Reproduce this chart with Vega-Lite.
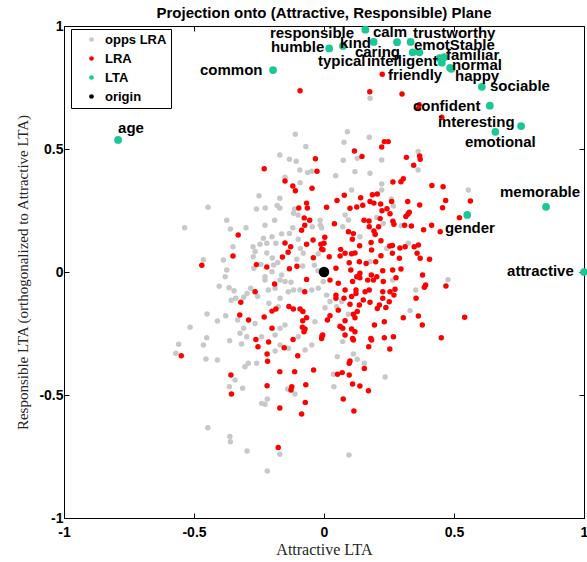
{
"$schema": "https://vega.github.io/schema/vega-lite/v6.json",
"width": 520, "height": 492,
"autosize": {"type": "none"},
"padding": {"left": 64, "top": 26, "right": 3, "bottom": 44},
"background": "white",
"title": {"text": "Projection onto (Attractive, Responsible) Plane", "fontSize": 15, "fontWeight": "bold", "font": "Liberation Sans", "color": "black", "offset": -2, "anchor": "middle"},
"config": {"view": {"stroke": "black", "strokeWidth": 1}, "font": "Liberation Sans"},
"datasets": {
"pts": [
{"x":-0.11,"y":0.56,"g":"opps LRA"},{"x":-0.07,"y":0.51,"g":"opps LRA"},{"x":-0.17,"y":0.476,"g":"opps LRA"},{"x":-0.133,"y":0.458,"g":"opps LRA"},{"x":-0.107,"y":0.45,"g":"opps LRA"},{"x":-0.093,"y":0.415,"g":"opps LRA"},{"x":-0.063,"y":0.404,"g":"opps LRA"},{"x":-0.047,"y":0.41,"g":"opps LRA"},{"x":-0.15,"y":0.385,"g":"opps LRA"},{"x":-0.092,"y":0.363,"g":"opps LRA"},{"x":-0.25,"y":0.31,"g":"opps LRA"},{"x":-0.17,"y":0.3,"g":"opps LRA"},{"x":-0.226,"y":0.26,"g":"opps LRA"},{"x":-0.26,"y":0.256,"g":"opps LRA"},{"x":-0.18,"y":0.27,"g":"opps LRA"},{"x":-0.17,"y":0.26,"g":"opps LRA"},{"x":-0.446,"y":0.263,"g":"opps LRA"},{"x":-0.113,"y":0.256,"g":"opps LRA"},{"x":-0.1,"y":0.232,"g":"opps LRA"},{"x":-0.117,"y":0.239,"g":"opps LRA"},{"x":-0.374,"y":0.21,"g":"opps LRA"},{"x":-0.3,"y":0.18,"g":"opps LRA"},{"x":-0.227,"y":0.19,"g":"opps LRA"},{"x":-0.19,"y":0.21,"g":"opps LRA"},{"x":-0.36,"y":0.175,"g":"opps LRA"},{"x":-0.536,"y":0.18,"g":"opps LRA"},{"x":-0.12,"y":0.18,"g":"opps LRA"},{"x":-0.045,"y":0.184,"g":"opps LRA"},{"x":-0.014,"y":0.19,"g":"opps LRA"},{"x":-0.133,"y":0.157,"g":"opps LRA"},{"x":-0.233,"y":0.137,"g":"opps LRA"},{"x":-0.2,"y":0.143,"g":"opps LRA"},{"x":-0.163,"y":0.155,"g":"opps LRA"},{"x":-0.22,"y":0.117,"g":"opps LRA"},{"x":-0.185,"y":0.117,"g":"opps LRA"},{"x":-0.273,"y":0.103,"g":"opps LRA"},{"x":-0.246,"y":0.113,"g":"opps LRA"},{"x":-0.35,"y":0.103,"g":"opps LRA"},{"x":-0.387,"y":0.049,"g":"opps LRA"},{"x":-0.464,"y":0.05,"g":"opps LRA"},{"x":-0.265,"y":0.083,"g":"opps LRA"},{"x":-0.272,"y":0.062,"g":"opps LRA"},{"x":-0.22,"y":0.077,"g":"opps LRA"},{"x":-0.199,"y":0.057,"g":"opps LRA"},{"x":-0.243,"y":0.031,"g":"opps LRA"},{"x":-0.194,"y":0.028,"g":"opps LRA"},{"x":-0.178,"y":0.039,"g":"opps LRA"},{"x":-0.099,"y":0.133,"g":"opps LRA"},{"x":-0.091,"y":0.096,"g":"opps LRA"},{"x":-0.08,"y":0.076,"g":"opps LRA"},{"x":-0.105,"y":0.052,"g":"opps LRA"},{"x":-0.082,"y":0.024,"g":"opps LRA"},{"x":-0.022,"y":0.074,"g":"opps LRA"},{"x":-0.037,"y":0.027,"g":"opps LRA"},{"x":-0.023,"y":0.005,"g":"opps LRA"},{"x":-0.374,"y":0.008,"g":"opps LRA"},{"x":-0.38,"y":-0.019,"g":"opps LRA"},{"x":-0.2,"y":0.001,"g":"opps LRA"},{"x":-0.163,"y":-0.012,"g":"opps LRA"},{"x":-0.227,"y":-0.019,"g":"opps LRA"},{"x":-0.27,"y":0.015,"g":"opps LRA"},
{"x":-0.403,"y":-0.058,"g":"opps LRA"},{"x":-0.365,"y":-0.064,"g":"opps LRA"},{"x":-0.346,"y":-0.076,"g":"opps LRA"},{"x":-0.34,"y":-0.107,"g":"opps LRA"},{"x":-0.357,"y":-0.115,"g":"opps LRA"},{"x":-0.296,"y":-0.087,"g":"opps LRA"},{"x":-0.282,"y":-0.066,"g":"opps LRA"},{"x":-0.255,"y":-0.1,"g":"opps LRA"},{"x":-0.309,"y":-0.103,"g":"opps LRA"},{"x":-0.227,"y":-0.033,"g":"opps LRA"},{"x":-0.214,"y":-0.073,"g":"opps LRA"},{"x":-0.188,"y":-0.066,"g":"opps LRA"},{"x":-0.169,"y":-0.033,"g":"opps LRA"},{"x":-0.15,"y":-0.039,"g":"opps LRA"},{"x":-0.127,"y":-0.042,"g":"opps LRA"},{"x":-0.137,"y":-0.08,"g":"opps LRA"},{"x":-0.117,"y":-0.073,"g":"opps LRA"},{"x":-0.092,"y":-0.073,"g":"opps LRA"},{"x":-0.047,"y":-0.073,"g":"opps LRA"},{"x":-0.022,"y":-0.066,"g":"opps LRA"},{"x":-0.169,"y":-0.107,"g":"opps LRA"},{"x":-0.212,"y":-0.127,"g":"opps LRA"},{"x":-0.176,"y":-0.141,"g":"opps LRA"},{"x":-0.45,"y":-0.171,"g":"opps LRA"},{"x":-0.41,"y":-0.199,"g":"opps LRA"},{"x":-0.378,"y":-0.178,"g":"opps LRA"},{"x":-0.515,"y":-0.225,"g":"opps LRA"},{"x":-0.451,"y":-0.267,"g":"opps LRA"},{"x":-0.464,"y":-0.297,"g":"opps LRA"},{"x":-0.559,"y":-0.294,"g":"opps LRA"},{"x":-0.57,"y":-0.33,"g":"opps LRA"},{"x":-0.363,"y":-0.279,"g":"opps LRA"},{"x":-0.317,"y":-0.293,"g":"opps LRA"},{"x":-0.454,"y":-0.354,"g":"opps LRA"},{"x":-0.41,"y":-0.358,"g":"opps LRA"},{"x":-0.332,"y":-0.195,"g":"opps LRA"},{"x":-0.309,"y":-0.229,"g":"opps LRA"},{"x":-0.323,"y":-0.249,"g":"opps LRA"},{"x":-0.265,"y":-0.209,"g":"opps LRA"},{"x":-0.24,"y":-0.263,"g":"opps LRA"},{"x":-0.297,"y":-0.263,"g":"opps LRA"},{"x":-0.169,"y":-0.229,"g":"opps LRA"},{"x":-0.15,"y":-0.215,"g":"opps LRA"},{"x":-0.188,"y":-0.256,"g":"opps LRA"},{"x":-0.169,"y":-0.297,"g":"opps LRA"},{"x":-0.188,"y":-0.321,"g":"opps LRA"},{"x":-0.137,"y":-0.31,"g":"opps LRA"},{"x":-0.099,"y":-0.263,"g":"opps LRA"},{"x":-0.073,"y":-0.317,"g":"opps LRA"},{"x":-0.047,"y":-0.297,"g":"opps LRA"},{"x":-0.035,"y":-0.202,"g":"opps LRA"},{"x":-0.291,"y":-0.371,"g":"opps LRA"},{"x":-0.304,"y":-0.385,"g":"opps LRA"},{"x":-0.259,"y":-0.371,"g":"opps LRA"},{"x":-0.342,"y":-0.439,"g":"opps LRA"},{"x":-0.364,"y":-0.466,"g":"opps LRA"},{"x":-0.313,"y":-0.473,"g":"opps LRA"},{"x":-0.14,"y":-0.476,"g":"opps LRA"},{"x":-0.112,"y":-0.496,"g":"opps LRA"},{"x":-0.24,"y":-0.534,"g":"opps LRA"},{"x":-0.227,"y":-0.538,"g":"opps LRA"},{"x":-0.218,"y":-0.516,"g":"opps LRA"},{"x":-0.447,"y":-0.633,"g":"opps LRA"},{"x":-0.362,"y":-0.669,"g":"opps LRA"},{"x":-0.36,"y":-0.69,"g":"opps LRA"},{"x":-0.296,"y":-0.728,"g":"opps LRA"},{"x":-0.17,"y":-0.741,"g":"opps LRA"},{"x":-0.218,"y":-0.809,"g":"opps LRA"},
{"x":0.177,"y":0.706,"g":"opps LRA"},{"x":0.09,"y":0.57,"g":"opps LRA"},{"x":0.077,"y":0.527,"g":"opps LRA"},{"x":0.174,"y":0.548,"g":"opps LRA"},{"x":0.128,"y":0.462,"g":"opps LRA"},{"x":0.074,"y":0.454,"g":"opps LRA"},{"x":0.222,"y":0.455,"g":"opps LRA"},{"x":0.177,"y":0.401,"g":"opps LRA"},{"x":0.119,"y":0.408,"g":"opps LRA"},{"x":0.045,"y":0.391,"g":"opps LRA"},{"x":0.106,"y":0.333,"g":"opps LRA"},{"x":0.222,"y":0.358,"g":"opps LRA"},{"x":0.222,"y":0.333,"g":"opps LRA"},{"x":0.259,"y":0.297,"g":"opps LRA"},{"x":0.267,"y":0.268,"g":"opps LRA"},{"x":0.203,"y":0.222,"g":"opps LRA"},{"x":0.297,"y":0.188,"g":"opps LRA"},{"x":0.362,"y":0.49,"g":"opps LRA"},{"x":0.362,"y":0.415,"g":"opps LRA"},{"x":0.555,"y":0.333,"g":"opps LRA"},{"x":0.081,"y":0.232,"g":"opps LRA"},{"x":0.094,"y":0.211,"g":"opps LRA"},{"x":0.072,"y":0.184,"g":"opps LRA"},{"x":0.138,"y":0.143,"g":"opps LRA"},{"x":0.196,"y":0.15,"g":"opps LRA"},{"x":0.228,"y":0.197,"g":"opps LRA"},{"x":0.324,"y":0.117,"g":"opps LRA"},{"x":0.177,"y":0.042,"g":"opps LRA"},{"x":0.241,"y":0.096,"g":"opps LRA"},{"x":-0.015,"y":0.21,"g":"opps LRA"},{"x":-0.009,"y":0.18,"g":"opps LRA"},
{"x":-0.003,"y":-0.039,"g":"opps LRA"},{"x":0.01,"y":-0.094,"g":"opps LRA"},{"x":0.004,"y":-0.145,"g":"opps LRA"},{"x":0.023,"y":-0.12,"g":"opps LRA"},{"x":0.068,"y":-0.12,"g":"opps LRA"},{"x":0.049,"y":-0.141,"g":"opps LRA"},{"x":0.094,"y":-0.172,"g":"opps LRA"},{"x":0.059,"y":-0.218,"g":"opps LRA"},{"x":0.072,"y":-0.283,"g":"opps LRA"},{"x":0.051,"y":-0.344,"g":"opps LRA"},{"x":0.113,"y":-0.333,"g":"opps LRA"},{"x":0.128,"y":-0.355,"g":"opps LRA"},{"x":0.155,"y":-0.371,"g":"opps LRA"},{"x":0.036,"y":-0.416,"g":"opps LRA"},{"x":0.038,"y":-0.466,"g":"opps LRA"},{"x":0.235,"y":-0.427,"g":"opps LRA"},{"x":0.096,"y":-0.744,"g":"opps LRA"},{"x":0.331,"y":-0.157,"g":"opps LRA"},{"x":0.353,"y":-0.073,"g":"opps LRA"},{"x":0.477,"y":-0.031,"g":"opps LRA"},{"x":0.264,"y":-0.033,"g":"opps LRA"},
{"x":-0.092,"y":0.737,"g":"LRA"},{"x":-0.23,"y":0.42,"g":"LRA"},{"x":-0.033,"y":0.46,"g":"LRA"},{"x":-0.027,"y":0.41,"g":"LRA"},{"x":-0.15,"y":0.37,"g":"LRA"},{"x":-0.12,"y":0.35,"g":"LRA"},{"x":-0.11,"y":0.33,"g":"LRA"},{"x":-0.046,"y":0.34,"g":"LRA"},{"x":-0.067,"y":0.28,"g":"LRA"},{"x":-0.064,"y":0.26,"g":"LRA"},{"x":-0.097,"y":0.26,"g":"LRA"},{"x":-0.076,"y":0.22,"g":"LRA"},{"x":-0.055,"y":0.21,"g":"LRA"},{"x":-0.074,"y":0.19,"g":"LRA"},{"x":-0.086,"y":0.17,"g":"LRA"},{"x":-0.33,"y":0.15,"g":"LRA"},{"x":-0.35,"y":0.065,"g":"LRA"},{"x":-0.47,"y":0.027,"g":"LRA"},{"x":-0.26,"y":0.03,"g":"LRA"},{"x":-0.22,"y":0.02,"g":"LRA"},{"x":-0.15,"y":0.118,"g":"LRA"},{"x":-0.128,"y":0.103,"g":"LRA"},{"x":-0.138,"y":0.08,"g":"LRA"},{"x":-0.16,"y":0.061,"g":"LRA"},{"x":-0.067,"y":0.113,"g":"LRA"},{"x":-0.042,"y":0.13,"g":"LRA"},{"x":-0.012,"y":0.113,"g":"LRA"},{"x":-0.004,"y":0.09,"g":"LRA"},{"x":-0.041,"y":0.058,"g":"LRA"},{"x":-0.104,"y":0.023,"g":"LRA"},{"x":-0.133,"y":0.013,"g":"LRA"},{"x":-0.067,"y":-0.03,"g":"LRA"},
{"x":-0.19,"y":-0.049,"g":"LRA"},{"x":-0.265,"y":-0.08,"g":"LRA"},{"x":-0.074,"y":-0.08,"g":"LRA"},{"x":-0.32,"y":-0.123,"g":"LRA"},{"x":-0.324,"y":-0.175,"g":"LRA"},{"x":-0.29,"y":-0.195,"g":"LRA"},{"x":-0.23,"y":-0.183,"g":"LRA"},{"x":-0.2,"y":-0.159,"g":"LRA"},{"x":-0.185,"y":-0.15,"g":"LRA"},{"x":-0.135,"y":-0.14,"g":"LRA"},{"x":-0.118,"y":-0.15,"g":"LRA"},{"x":-0.092,"y":-0.15,"g":"LRA"},{"x":-0.081,"y":-0.161,"g":"LRA"},{"x":-0.067,"y":-0.186,"g":"LRA"},{"x":-0.082,"y":-0.198,"g":"LRA"},{"x":-0.2,"y":-0.229,"g":"LRA"},{"x":-0.083,"y":-0.225,"g":"LRA"},{"x":-0.073,"y":-0.232,"g":"LRA"},{"x":-0.077,"y":-0.243,"g":"LRA"},{"x":-0.262,"y":-0.274,"g":"LRA"},{"x":-0.254,"y":-0.304,"g":"LRA"},{"x":-0.213,"y":-0.285,"g":"LRA"},{"x":-0.219,"y":-0.333,"g":"LRA"},{"x":-0.217,"y":-0.363,"g":"LRA"},{"x":-0.153,"y":-0.308,"g":"LRA"},{"x":-0.119,"y":-0.274,"g":"LRA"},{"x":-0.101,"y":-0.34,"g":"LRA"},{"x":-0.008,"y":-0.26,"g":"LRA"},{"x":-0.549,"y":-0.34,"g":"LRA"},{"x":-0.358,"y":-0.419,"g":"LRA"},{"x":-0.356,"y":-0.496,"g":"LRA"},{"x":-0.17,"y":-0.405,"g":"LRA"},{"x":-0.113,"y":-0.405,"g":"LRA"},{"x":-0.04,"y":-0.398,"g":"LRA"},{"x":-0.219,"y":-0.462,"g":"LRA"},{"x":-0.124,"y":-0.466,"g":"LRA"},{"x":-0.127,"y":-0.48,"g":"LRA"},{"x":-0.07,"y":-0.458,"g":"LRA"},{"x":-0.072,"y":-0.53,"g":"LRA"},{"x":-0.17,"y":-0.553,"g":"LRA"},{"x":-0.086,"y":-0.577,"g":"LRA"},{"x":-0.176,"y":-0.713,"g":"LRA"},
{"x":0.176,"y":0.733,"g":"LRA"},{"x":0.3,"y":0.724,"g":"LRA"},{"x":0.224,"y":0.804,"g":"LRA"},{"x":0.364,"y":0.665,"g":"LRA"},{"x":0.366,"y":0.68,"g":"LRA"},{"x":0.453,"y":0.629,"g":"LRA"},{"x":0.232,"y":0.53,"g":"LRA"},{"x":0.247,"y":0.53,"g":"LRA"},{"x":0.222,"y":0.508,"g":"LRA"},{"x":0.117,"y":0.492,"g":"LRA"},{"x":0.146,"y":0.47,"g":"LRA"},{"x":0.317,"y":0.466,"g":"LRA"},{"x":0.368,"y":0.472,"g":"LRA"},{"x":0.37,"y":0.458,"g":"LRA"},{"x":0.345,"y":0.434,"g":"LRA"},{"x":0.265,"y":0.366,"g":"LRA"},{"x":0.296,"y":0.367,"g":"LRA"},{"x":0.305,"y":0.379,"g":"LRA"},{"x":0.415,"y":0.352,"g":"LRA"},{"x":0.458,"y":0.347,"g":"LRA"},{"x":0.468,"y":0.291,"g":"LRA"},{"x":0.456,"y":0.261,"g":"LRA"},{"x":0.563,"y":0.289,"g":"LRA"},{"x":0.521,"y":0.221,"g":"LRA"},{"x":0.447,"y":0.164,"g":"LRA"},{"x":0.414,"y":0.19,"g":"LRA"},
{"x":0.01,"y":0.263,"g":"LRA"},{"x":0.05,"y":0.291,"g":"LRA"},{"x":0.078,"y":0.312,"g":"LRA"},{"x":0.1,"y":0.259,"g":"LRA"},{"x":0.126,"y":0.264,"g":"LRA"},{"x":0.141,"y":0.302,"g":"LRA"},{"x":0.149,"y":0.271,"g":"LRA"},{"x":0.177,"y":0.287,"g":"LRA"},{"x":0.186,"y":0.314,"g":"LRA"},{"x":0.205,"y":0.317,"g":"LRA"},{"x":0.192,"y":0.28,"g":"LRA"},{"x":0.218,"y":0.276,"g":"LRA"},{"x":0.26,"y":0.287,"g":"LRA"},{"x":0.223,"y":0.249,"g":"LRA"},{"x":0.242,"y":0.257,"g":"LRA"},{"x":0.254,"y":0.237,"g":"LRA"},{"x":0.322,"y":0.287,"g":"LRA"},{"x":0.368,"y":0.272,"g":"LRA"},{"x":0.323,"y":0.236,"g":"LRA"},{"x":0.328,"y":0.243,"g":"LRA"},{"x":0.315,"y":0.226,"g":"LRA"},{"x":0.265,"y":0.206,"g":"LRA"},{"x":0.269,"y":0.194,"g":"LRA"},{"x":0.31,"y":0.19,"g":"LRA"},{"x":0.336,"y":0.187,"g":"LRA"},{"x":0.383,"y":0.172,"g":"LRA"},{"x":0.154,"y":0.21,"g":"LRA"},{"x":0.173,"y":0.207,"g":"LRA"},{"x":0.216,"y":0.217,"g":"LRA"},{"x":0.21,"y":0.184,"g":"LRA"},{"x":0.174,"y":0.184,"g":"LRA"},{"x":0.192,"y":0.167,"g":"LRA"},{"x":0.197,"y":0.153,"g":"LRA"},{"x":0.04,"y":0.196,"g":"LRA"},{"x":0.113,"y":0.156,"g":"LRA"},{"x":0.094,"y":0.164,"g":"LRA"},{"x":0.109,"y":0.133,"g":"LRA"},{"x":0.003,"y":0.141,"g":"LRA"},{"x":0.0,"y":0.117,"g":"LRA"},{"x":-0.009,"y":0.093,"g":"LRA"},{"x":0.064,"y":0.092,"g":"LRA"},{"x":0.081,"y":0.076,"g":"LRA"},{"x":0.062,"y":0.065,"g":"LRA"},{"x":0.106,"y":0.074,"g":"LRA"},{"x":0.119,"y":0.077,"g":"LRA"},{"x":0.137,"y":0.107,"g":"LRA"},{"x":0.181,"y":0.12,"g":"LRA"},{"x":0.183,"y":0.089,"g":"LRA"},{"x":0.219,"y":0.127,"g":"LRA"},{"x":0.219,"y":0.066,"g":"LRA"},{"x":0.253,"y":0.106,"g":"LRA"},{"x":0.263,"y":0.108,"g":"LRA"},{"x":0.292,"y":0.098,"g":"LRA"},{"x":0.263,"y":0.076,"g":"LRA"},{"x":0.29,"y":0.056,"g":"LRA"},{"x":0.312,"y":0.103,"g":"LRA"},{"x":0.347,"y":0.103,"g":"LRA"},{"x":0.363,"y":0.11,"g":"LRA"},{"x":0.358,"y":0.076,"g":"LRA"},{"x":0.37,"y":0.056,"g":"LRA"},{"x":0.406,"y":0.052,"g":"LRA"},{"x":0.02,"y":0.062,"g":"LRA"},{"x":0.046,"y":0.015,"g":"LRA"},{"x":0.097,"y":0.038,"g":"LRA"},{"x":0.136,"y":0.042,"g":"LRA"},{"x":0.162,"y":0.035,"g":"LRA"},{"x":0.199,"y":0.042,"g":"LRA"},{"x":0.226,"y":0.005,"g":"LRA"},{"x":0.103,"y":0.008,"g":"LRA"},{"x":0.138,"y":-0.005,"g":"LRA"},{"x":0.182,"y":-0.012,"g":"LRA"},{"x":0.264,"y":0.008,"g":"LRA"},{"x":0.296,"y":0.012,"g":"LRA"},{"x":0.379,"y":-0.012,"g":"LRA"},
{"x":0.023,"y":-0.033,"g":"LRA"},{"x":0.055,"y":-0.046,"g":"LRA"},{"x":0.081,"y":-0.073,"g":"LRA"},{"x":0.046,"y":-0.094,"g":"LRA"},{"x":0.046,"y":-0.107,"g":"LRA"},{"x":0.077,"y":-0.107,"g":"LRA"},{"x":0.106,"y":-0.1,"g":"LRA"},{"x":0.11,"y":-0.039,"g":"LRA"},{"x":0.126,"y":-0.019,"g":"LRA"},{"x":0.138,"y":-0.023,"g":"LRA"},{"x":0.168,"y":-0.033,"g":"LRA"},{"x":0.19,"y":-0.033,"g":"LRA"},{"x":0.203,"y":-0.019,"g":"LRA"},{"x":0.228,"y":-0.039,"g":"LRA"},{"x":0.277,"y":-0.023,"g":"LRA"},{"x":0.123,"y":-0.073,"g":"LRA"},{"x":0.123,"y":-0.087,"g":"LRA"},{"x":0.158,"y":-0.08,"g":"LRA"},{"x":0.174,"y":-0.073,"g":"LRA"},{"x":0.226,"y":-0.08,"g":"LRA"},{"x":0.254,"y":-0.08,"g":"LRA"},{"x":0.273,"y":-0.07,"g":"LRA"},{"x":0.269,"y":-0.094,"g":"LRA"},{"x":0.1,"y":-0.131,"g":"LRA"},{"x":0.136,"y":-0.134,"g":"LRA"},{"x":0.151,"y":-0.114,"g":"LRA"},{"x":0.177,"y":-0.123,"g":"LRA"},{"x":0.213,"y":-0.134,"g":"LRA"},{"x":0.238,"y":-0.144,"g":"LRA"},{"x":0.205,"y":-0.148,"g":"LRA"},{"x":0.251,"y":-0.121,"g":"LRA"},{"x":0.226,"y":-0.107,"g":"LRA"},{"x":0.128,"y":-0.161,"g":"LRA"},{"x":0.055,"y":-0.155,"g":"LRA"},{"x":0.023,"y":-0.178,"g":"LRA"},{"x":0.013,"y":-0.195,"g":"LRA"},{"x":0.081,"y":-0.198,"g":"LRA"},{"x":0.113,"y":-0.172,"g":"LRA"},{"x":0.119,"y":-0.186,"g":"LRA"},{"x":0.062,"y":-0.222,"g":"LRA"},{"x":0.072,"y":-0.229,"g":"LRA"},{"x":0.106,"y":-0.232,"g":"LRA"},{"x":0.119,"y":-0.243,"g":"LRA"},{"x":0.081,"y":-0.256,"g":"LRA"},{"x":0.11,"y":-0.27,"g":"LRA"},{"x":0.113,"y":-0.276,"g":"LRA"},{"x":-0.005,"y":-0.256,"g":"LRA"},{"x":-0.009,"y":-0.27,"g":"LRA"},{"x":0.194,"y":-0.215,"g":"LRA"},{"x":0.232,"y":-0.202,"g":"LRA"},{"x":0.232,"y":-0.267,"g":"LRA"},{"x":0.267,"y":-0.263,"g":"LRA"},{"x":0.18,"y":-0.27,"g":"LRA"},{"x":0.183,"y":-0.276,"g":"LRA"},{"x":0.172,"y":-0.304,"g":"LRA"},{"x":0.253,"y":-0.313,"g":"LRA"},{"x":0.305,"y":-0.186,"g":"LRA"},{"x":0.363,"y":-0.179,"g":"LRA"},{"x":0.378,"y":-0.215,"g":"LRA"},{"x":0.354,"y":-0.107,"g":"LRA"},{"x":0.391,"y":-0.053,"g":"LRA"},{"x":0.386,"y":-0.062,"g":"LRA"},{"x":0.469,"y":-0.057,"g":"LRA"},{"x":0.541,"y":-0.184,"g":"LRA"},{"x":0.451,"y":-0.267,"g":"LRA"},{"x":0.1,"y":-0.362,"g":"LRA"},{"x":0.097,"y":-0.371,"g":"LRA"},{"x":0.155,"y":-0.392,"g":"LRA"},{"x":0.052,"y":-0.416,"g":"LRA"},{"x":0.07,"y":-0.409,"g":"LRA"},{"x":0.097,"y":-0.419,"g":"LRA"},{"x":0.11,"y":-0.455,"g":"LRA"},{"x":0.138,"y":-0.463,"g":"LRA"},{"x":0.171,"y":-0.483,"g":"LRA"},{"x":0.074,"y":-0.516,"g":"LRA"},{"x":0.115,"y":-0.565,"g":"LRA"},
{"x":-0.792,"y":0.537,"g":"LTA","name":"age"},{"x":-0.196,"y":0.821,"g":"LTA","name":"common"},{"x":0.159,"y":0.985,"g":"LTA","name":"responsible"},{"x":0.02,"y":0.909,"g":"LTA","name":"humble"},{"x":0.073,"y":0.919,"g":"LTA","name":"kind"},{"x":0.191,"y":0.935,"g":"LTA","name":"calm"},{"x":0.281,"y":0.934,"g":"LTA","name":"trustworthy"},{"x":0.333,"y":0.935,"g":"LTA","name":"emotStable"},{"x":0.341,"y":0.893,"g":"LTA","name":"caring"},{"x":0.367,"y":0.893,"g":"LTA","name":"typical"},{"x":0.445,"y":0.869,"g":"LTA","name":"intelligent"},{"x":0.462,"y":0.873,"g":"LTA","name":"familiar"},{"x":0.453,"y":0.851,"g":"LTA","name":"friendly"},{"x":0.485,"y":0.83,"g":"LTA","name":"normal"},{"x":0.49,"y":0.826,"g":"LTA","name":"happy"},{"x":0.607,"y":0.753,"g":"LTA","name":"sociable"},{"x":0.638,"y":0.676,"g":"LTA","name":"confident"},{"x":0.758,"y":0.593,"g":"LTA","name":"interesting"},{"x":0.659,"y":0.57,"g":"LTA","name":"emotional"},{"x":0.854,"y":0.265,"g":"LTA","name":"memorable"},{"x":0.551,"y":0.232,"g":"LTA","name":"gender"},{"x":1.0,"y":0.0,"g":"LTA","name":"attractive"},
{"x":0,"y":0,"g":"origin"}
],
"labels": [
{"label":"responsible","x":-0.208,"y":0.972},{"label":"calm","x":0.188,"y":0.976},{"label":"trustworthy","x":0.342,"y":0.972},{"label":"humble","x":-0.204,"y":0.915},{"label":"kind","x":0.062,"y":0.931},{"label":"caring","x":0.119,"y":0.894},{"label":"emotStable","x":0.346,"y":0.923},{"label":"familiar","x":0.469,"y":0.882},{"label":"typical","x":-0.023,"y":0.858},{"label":"intelligent","x":0.165,"y":0.858},{"label":"normal","x":0.492,"y":0.841},{"label":"friendly","x":0.246,"y":0.801},{"label":"happy","x":0.504,"y":0.797},{"label":"common","x":-0.477,"y":0.821},{"label":"sociable","x":0.638,"y":0.756},{"label":"confident","x":0.342,"y":0.675},{"label":"interesting","x":0.438,"y":0.61},{"label":"emotional","x":0.542,"y":0.528},{"label":"memorable","x":0.677,"y":0.325},{"label":"gender","x":0.465,"y":0.179},{"label":"attractive","x":0.704,"y":0.004},{"label":"age","x":-0.792,"y":0.585}
]
},
"layer": [
{"data": {"name": "pts"},
 "transform": [{"filter": {"field": "g", "oneOf": ["opps LRA", "LRA"]}}],
 "mark": {"type": "circle", "opacity": 1, "size": 30, "clip": false},
 "encoding": {
  "x": {"field": "x", "type": "quantitative", "scale": {"domain": [-1, 1], "nice": false, "zero": false},
   "axis": {"orient": "bottom", "values": [-1, -0.5, 0, 0.5, 1], "tickSize": -5, "labelFlush": false, "labelExpr": "'' + datum.value", "labelFontSize": 14, "labelFontWeight": "bold", "labelFont": "Liberation Sans", "labelColor": "black", "labelPadding": 12, "domainColor": "black", "tickColor": "black", "grid": false, "title": "Attractive LTA", "titleFont": "Liberation Serif", "titleFontWeight": "normal", "titleFontSize": 16, "titleColor": "#262626", "titlePadding": 2}},
  "y": {"field": "y", "type": "quantitative", "scale": {"domain": [-1, 1], "nice": false, "zero": false},
   "axis": {"orient": "left", "values": [-1, -0.5, 0, 0.5, 1], "tickSize": -5, "labelFlush": false, "labelExpr": "'' + datum.value", "labelFontSize": 14, "labelFontWeight": "bold", "labelFont": "Liberation Sans", "labelColor": "black", "labelPadding": 6, "domainColor": "black", "tickColor": "black", "grid": false, "title": "Responsible LTA (orthogonalized to Attractive LTA)", "titleFont": "Liberation Serif", "titleFontWeight": "normal", "titleFontSize": 15, "titleColor": "#262626", "titlePadding": 8}},
  "color": {"field": "g", "type": "nominal", "scale": {"domain": ["opps LRA", "LRA", "LTA", "origin"], "range": ["#c8c8c8", "#ff0000", "#1ac896", "#000000"]},
   "legend": {"orient": "none", "legendX": 7, "legendY": 3, "title": null, "strokeColor": "black", "fillColor": "white", "padding": 4, "symbolType": "circle", "symbolSize": 22, "symbolStrokeWidth": 0, "symbolOffset": 10, "labelOffset": 7, "labelFontSize": 13, "labelFontWeight": "bold", "labelFont": "Liberation Sans", "labelColor": "black", "rowPadding": 5}}
 }},
{"data": {"name": "pts"},
 "transform": [{"filter": {"field": "g", "equal": "LTA"}}],
 "mark": {"type": "circle", "opacity": 1, "size": 60, "clip": false},
 "encoding": {
  "x": {"field": "x", "type": "quantitative", "axis": null},
  "y": {"field": "y", "type": "quantitative", "axis": null},
  "color": {"field": "g", "type": "nominal"}
 }},
{"data": {"name": "pts"},
 "transform": [{"filter": {"field": "g", "equal": "origin"}}],
 "mark": {"type": "circle", "opacity": 1, "size": 110, "clip": false},
 "encoding": {
  "x": {"field": "x", "type": "quantitative", "axis": null},
  "y": {"field": "y", "type": "quantitative", "axis": null},
  "color": {"field": "g", "type": "nominal"}
 }},
{"data": {"name": "labels"},
 "mark": {"type": "text", "align": "left", "baseline": "middle", "fontSize": 15, "fontWeight": "bold", "font": "Liberation Sans", "color": "black", "clip": false},
 "encoding": {
  "x": {"field": "x", "type": "quantitative", "axis": {"orient": "top", "values": [-1, -0.5, 0, 0.5, 1], "tickSize": -5, "labels": false, "domain": false, "tickColor": "black", "grid": false, "title": null}},
  "y": {"field": "y", "type": "quantitative", "axis": {"orient": "right", "values": [-1, -0.5, 0, 0.5, 1], "tickSize": -5, "labels": false, "domain": false, "tickColor": "black", "grid": false, "title": null}},
  "text": {"field": "label"}
 }}
],
"resolve": {"axis": {"x": "independent", "y": "independent"}}
}
